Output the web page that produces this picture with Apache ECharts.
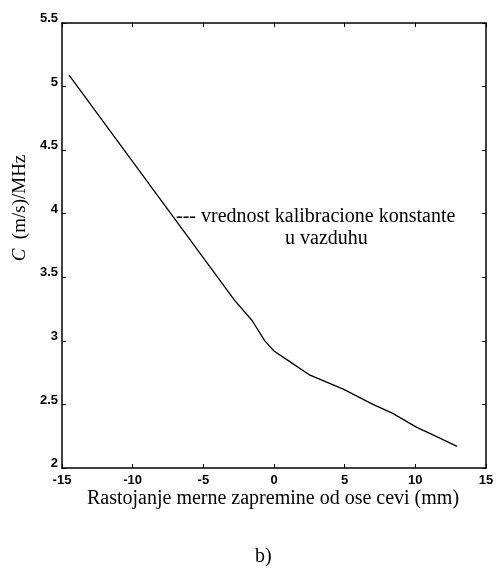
<!DOCTYPE html>
<html>
<head>
<meta charset="utf-8">
<script src="https://cdn.jsdelivr.net/npm/echarts@6/dist/echarts.min.js"></script>
<style>
html,body{margin:0;padding:0;background:#fff;}
#chart{width:498px;height:576px;}
</style>
</head>
<body>
<div id="chart"></div>
<script>
// Data
const xValues = [-14.5, -2.8, -1.55, -0.65, 0.0, 0.8, 2.55, 4.9, 7.0, 8.4, 10.1, 11.25, 12.95];
const yValues = [5.09, 3.32, 3.16, 3.0, 2.92, 2.86, 2.73, 2.62, 2.50, 2.43, 2.32, 2.26, 2.17];
const xTicks = [-15, -10, -5, 0, 5, 10, 15];
const yTicks = [2, 2.5, 3, 3.5, 4, 4.5, 5, 5.5];
const xTitle = 'Rastojanje merne zapremine od ose cevi (mm)';
const annotation1 = '--- vrednost kalibracione konstante';
const annotation2 = 'u vazduhu';
const caption = 'b)';

const data = xValues.map((x, i) => [x, yValues[i]]);
const chart = echarts.init(document.getElementById('chart'));
const tickFont = {color: '#000', fontFamily: 'Liberation Sans', fontWeight: 'bold', fontSize: 13};
const serif = 'Liberation Serif';

const baseAxis = {
  axisLine: {show: true, onZero: false, lineStyle: {color: '#000', width: 1.5}},
  axisTick: {show: true, inside: true, length: 4, lineStyle: {color: '#000', width: 1}},
  splitLine: {show: false}
};

chart.setOption({
  animation: false,
  backgroundColor: '#fff',
  grid: {left: 62, right: 12, top: 23, bottom: 108, show: false},
  xAxis: [
    Object.assign({}, baseAxis, {
      type: 'value', min: -15, max: 15, interval: 5, position: 'bottom',
      axisLabel: Object.assign({margin: 6, formatter: v => String(v)}, tickFont)
    }),
    Object.assign({}, baseAxis, {
      type: 'value', min: -15, max: 15, interval: 5, position: 'top',
      axisLabel: {show: false}
    })
  ],
  yAxis: [
    Object.assign({}, baseAxis, {
      type: 'value', min: 2, max: 5.5, interval: 0.5, position: 'left',
      axisLabel: Object.assign({margin: 4, formatter: v => String(v), verticalAlign: 'bottom', lineHeight: 9}, tickFont)
    }),
    Object.assign({}, baseAxis, {
      type: 'value', min: 2, max: 5.5, interval: 0.5, position: 'right',
      axisLabel: {show: false}
    })
  ],
  series: [{
    type: 'line',
    data: data,
    xAxisIndex: 0, yAxisIndex: 0,
    showSymbol: false,
    lineStyle: {color: '#000', width: 1.3}
  }],
  graphic: [
    {
      type: 'text', x: 273, y: 499,
      style: {text: xTitle, font: '20px "Liberation Serif"', fill: '#000', align: 'center', verticalAlign: 'middle'}
    },
    {
      type: 'text', left: 176, top: 207,
      style: {text: annotation1, font: '20px "Liberation Serif"', fill: '#000'}
    },
    {
      type: 'text', left: 285, top: 229,
      style: {text: annotation2, font: '20px "Liberation Serif"', fill: '#000'}
    },
    {
      type: 'text', x: 20, y: 208, rotation: Math.PI / 2,
      style: {
        text: '{i|C}  (m/s)/MHz',
        rich: {i: {fontStyle: 'italic', fontFamily: serif, fontSize: 19}},
        font: '19px "Liberation Serif"', fill: '#000',
        align: 'center', verticalAlign: 'middle'
      }
    },
    {
      type: 'text', left: 255, top: 547,
      style: {text: caption, font: '20px "Liberation Serif"', fill: '#000'}
    }
  ]
});
</script>
</body>
</html>
